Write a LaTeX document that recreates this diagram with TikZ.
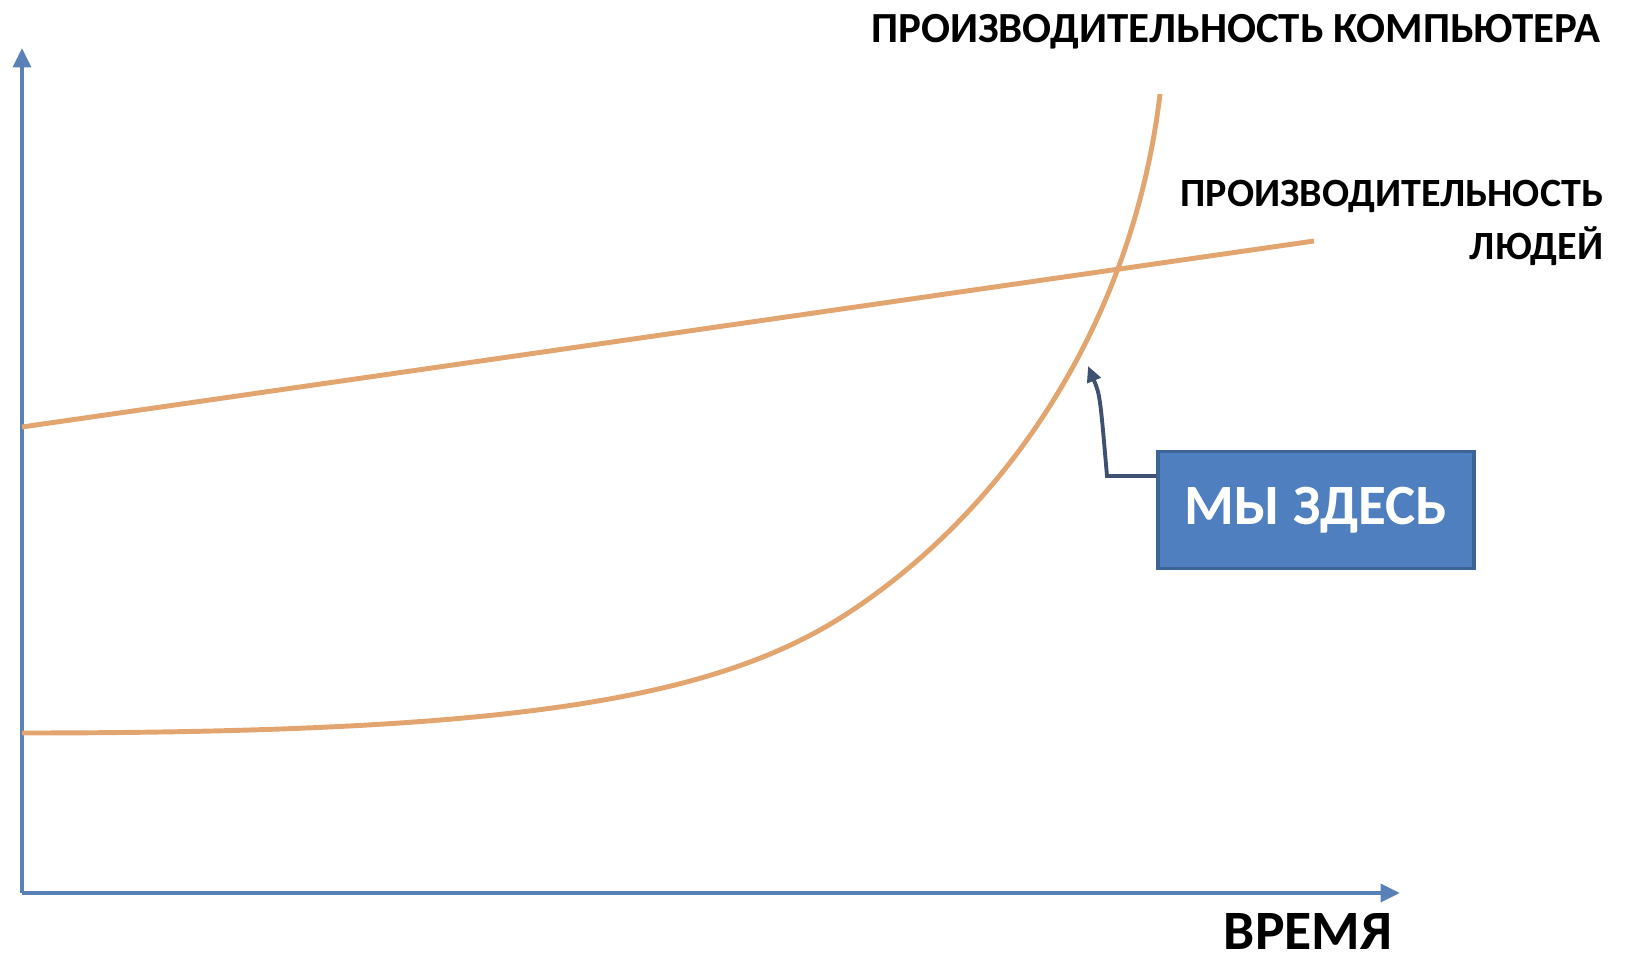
\documentclass[tikz,border=0pt]{standalone}
\usepackage{fontspec}
\setmainfont{Carlito}
\usetikzlibrary{arrows.meta}
\definecolor{axisblue}{HTML}{5A80B8}
\definecolor{perforange}{HTML}{E3A56F}
\definecolor{boxblue}{HTML}{4F7FBE}
\definecolor{boxedge}{HTML}{3C6496}
\definecolor{pointerblue}{HTML}{3E5170}

\begin{document}
\begin{tikzpicture}[x=0.01cm,y=-0.01cm,
  axis/.style={draw=axisblue,line width=1.2pt,-{Triangle[width=5pt,length=5.5pt]}},
  perf/.style={draw=perforange,line width=1.4pt},
  lbl/.style={font=\bfseries\fontsize{12.2}{14}\selectfont,inner sep=0pt},
  herebox/.style={fill=boxblue,draw=boxedge,line width=1pt,text=white,font=\bfseries\fontsize{16.2}{20}\selectfont,minimum width=3.16cm,minimum height=1.17cm},
  pointer/.style={draw=pointerblue,line width=1.1pt,-{Triangle[width=4pt,length=4.5pt]}}]
\useasboundingbox (0,0) rectangle (1642,961);

\coordinate (origin) at (22,893);
\coordinate (ytop) at (22,48);
\coordinate (xend) at (1400,893);
\draw[axis] (origin) -- (ytop);
\draw[axis] (origin) -- (xend);

\draw[perf] (22,427) -- (1314,241);
\draw[perf] (22,733) .. controls (500,733) and (710,702) .. (845,615)
  .. controls (1000,515) and (1132,330) .. (1160,94);

\node[lbl] (cpu) at (1236,32) {ПРОИЗВОДИТЕЛЬНОСТЬ КОМПЬЮТЕРА};
\node[lbl,align=right,anchor=north east,font=\bfseries\fontsize{11.4}{14.8}\selectfont] (people) at (1604,180) {ПРОИЗВОДИТЕЛЬНОСТЬ\\ЛЮДЕЙ};
\node[lbl,font=\bfseries\fontsize{15.8}{18}\selectfont,text depth=0pt,anchor=base] (time) at (1308,949) {ВРЕМЯ};

\node[herebox] (here) at (1316,510) {МЫ ЗДЕСЬ};
\coordinate (bend) at (1107,476);
\coordinate (tip) at (1088,366);
\draw[pointer] (here.west |- bend) -- (bend) .. controls (1100,395) .. (tip);
\end{tikzpicture}
\end{document}
